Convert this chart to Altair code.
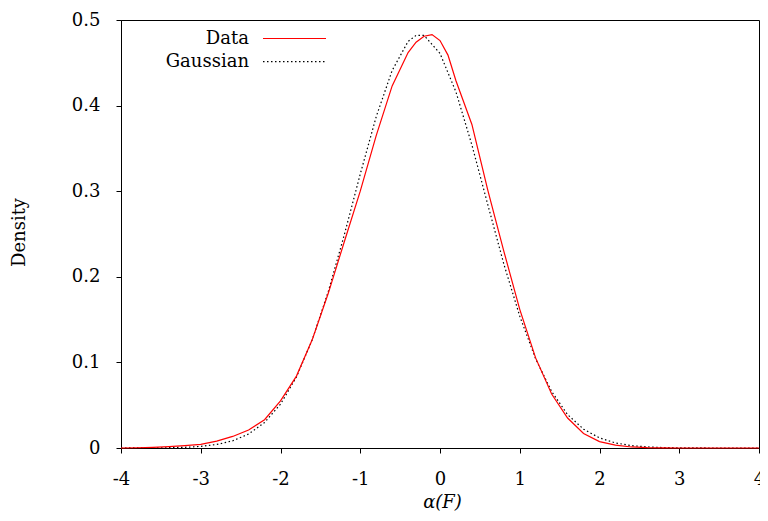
import altair as alt
import pandas as pd

# ---- data ----
data_x = [-4.0, -3.8, -3.6, -3.4, -3.2, -3.0, -2.8, -2.6, -2.4, -2.2, -2.0, -1.8, -1.6, -1.4,
          -1.2, -1.0, -0.8, -0.6, -0.4, -0.3, -0.2, -0.1, 0.0, 0.1, 0.2, 0.4, 0.6, 0.8, 1.0,
          1.2, 1.4, 1.6, 1.8, 2.0, 2.2, 2.4, 2.6, 2.8, 3.0, 3.5, 4.0]
data_y = [0.0000, 0.0003, 0.0008, 0.0016, 0.0027, 0.0042, 0.0080, 0.0135, 0.021, 0.033, 0.055,
          0.084, 0.127, 0.181, 0.241, 0.300, 0.365, 0.423, 0.462, 0.474, 0.481, 0.483, 0.476,
          0.459, 0.429, 0.378, 0.301, 0.230, 0.162, 0.105, 0.063, 0.035, 0.017, 0.0075, 0.0033,
          0.0012, 0.0004, 0.0001, 0.0, 0.0, 0.0]

gauss_x = [-4.0, -3.8, -3.6, -3.4, -3.2, -3.0, -2.8, -2.6, -2.4, -2.2, -2.0, -1.8, -1.6, -1.4,
           -1.2, -1.0, -0.8, -0.6, -0.4, -0.3, -0.2, 0.0, 0.2, 0.4, 0.6, 0.8, 1.0, 1.2, 1.4,
           1.6, 1.8, 2.0, 2.2, 2.4, 2.6, 2.8, 3.0, 3.2, 3.4, 3.6, 3.8, 4.0]
gauss_y = [0.00002, 0.00005, 0.00013, 0.00034, 0.0008, 0.0019, 0.0041, 0.0084, 0.0163, 0.0298,
           0.0512, 0.083, 0.127, 0.183, 0.249, 0.320, 0.387, 0.441, 0.475, 0.482, 0.482, 0.461,
           0.416, 0.354, 0.284, 0.215, 0.154, 0.104, 0.066, 0.039, 0.022, 0.0118, 0.0059,
           0.0028, 0.0013, 0.0005, 0.0002, 0.0001, 0.0, 0.0, 0.0, 0.0]

x_ticks = [-4, -3, -2, -1, 0, 1, 2, 3, 4]
y_ticks = [0, 0.1, 0.2, 0.3, 0.4, 0.5]
legend_labels = ["Data", "Gaussian"]

FONT = "DejaVu Serif"
FS = 18

df_data = pd.DataFrame({"x": data_x, "y": data_y})
df_gauss = pd.DataFrame({"x": gauss_x, "y": gauss_y})

xscale = alt.Scale(domain=[-4, 4], nice=False, zero=False)
yscale = alt.Scale(domain=[0, 0.5], nice=False)

xaxis = alt.Axis(values=x_ticks, labelExpr="'' + datum.value", grid=False,
                 tickSize=5, labelPadding=17, labelFont=FONT, labelFontSize=FS,
                 labelColor="black", tickColor="black", domainColor="black",
                 title="α(F)", titleFont=FONT, titleFontSize=FS, titleFontStyle="italic",
                 titleFontWeight="normal", titleColor="black",
                 titleX=321, titleY=59, titleBaseline="alphabetic", titleAlign="center",
                 labelFlush=False)
yaxis = alt.Axis(values=y_ticks, labelExpr="'' + datum.value", grid=False,
                 tickSize=5, labelPadding=16, labelFont=FONT, labelFontSize=FS,
                 labelColor="black", tickColor="black", domainColor="black",
                 title="Density", titleFont=FONT, titleFontSize=FS, titleFontWeight="normal",
                 titleColor="black", titleAngle=-90, titleX=-101.5, titleY=212,
                 titleBaseline="middle", titleAlign="center", labelFlush=False)

gauss_line = alt.Chart(df_gauss).mark_line(color="black", strokeWidth=1.2,
                                            strokeDash=[1.5, 2.5]).encode(
    x=alt.X("x:Q", scale=xscale, axis=xaxis),
    y=alt.Y("y:Q", scale=yscale, axis=yaxis),
)
data_line = alt.Chart(df_data).mark_line(color="#ff0000", strokeWidth=1.2).encode(
    x=alt.X("x:Q", scale=xscale),
    y=alt.Y("y:Q", scale=yscale),
)

t1 = alt.Chart(pd.DataFrame({"label": [legend_labels[0]]})).mark_text(
    align="right", baseline="alphabetic", font=FONT, fontSize=FS, color="black").encode(
    x=alt.value(128), y=alt.value(24), text="label:N")
t2 = alt.Chart(pd.DataFrame({"label": [legend_labels[1]]})).mark_text(
    align="right", baseline="alphabetic", font=FONT, fontSize=FS, color="black").encode(
    x=alt.value(128), y=alt.value(47), text="label:N")
r1 = alt.Chart(pd.DataFrame({"label": [legend_labels[0]]})).mark_rule(
    color="#ff0000", strokeWidth=1.2).encode(
    x=alt.value(142), x2=alt.value(205), y=alt.value(18.5))
r2 = alt.Chart(pd.DataFrame({"label": [legend_labels[1]]})).mark_rule(
    color="black", strokeWidth=1.2, strokeDash=[1.5, 2.5]).encode(
    x=alt.value(142), x2=alt.value(205), y=alt.value(41.7))

chart = alt.layer(gauss_line, data_line, t1, t2, r1, r2).properties(
    width=638, height=428,
    autosize=alt.AutoSizeParams(type="none"),
    padding={"left": 113, "top": 12, "right": 1, "bottom": 64},
).configure_view(stroke="black", strokeWidth=1)

chart.save("out.html", embed_options={"renderer": "svg", "actions": False})
